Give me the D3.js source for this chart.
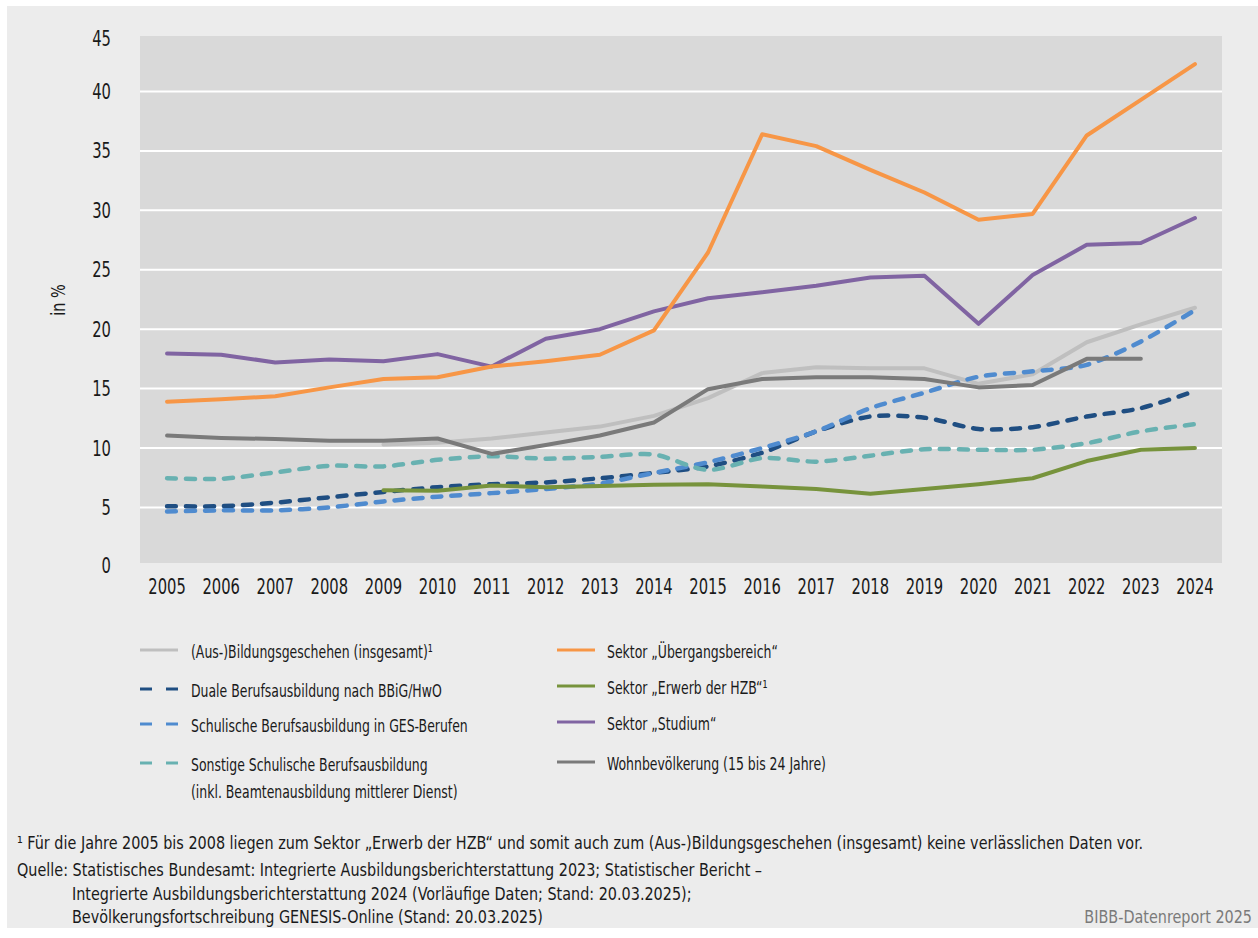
<!DOCTYPE html>
<html>
<head>
<meta charset="utf-8">
<script src="https://cdn.jsdelivr.net/npm/d3@7"></script>
<style>
  body { margin: 0; background: #fff; }
  svg text { font-family: "Liberation Sans Narrow", "DejaVu Sans Condensed", "Arial Narrow", sans-serif; fill: #1a1a1a; }
</style>
</head>
<body>
<svg width="1258" height="938"></svg>
<script>
"use strict";

var years = ["2005", "2006", "2007", "2008", "2009", "2010", "2011", "2012", "2013", "2014",
             "2015", "2016", "2017", "2018", "2019", "2020", "2021", "2022", "2023", "2024"];
var yTicks = [0, 5, 10, 15, 20, 25, 30, 35, 40, 45];

var bildung = [null, null, null, null, 10.3, 10.45, 10.8, 11.3, 11.8, 12.7,
               14.2, 16.3, 16.8, 16.7, 16.7, 15.4, 16.2, 18.9, 20.4, 21.8];
var duale = [5.1, 5.1, 5.4, 5.85, 6.3, 6.7, 6.95, 7.1, 7.45, 7.9,
             8.45, 9.6, 11.4, 12.65, 12.55, 11.6, 11.75, 12.65, 13.35, 14.8];
var ges = [4.65, 4.75, 4.75, 5.0, 5.5, 5.9, 6.2, 6.55, 7.0, 7.9,
           8.8, 10.0, 11.4, 13.35, 14.65, 16.0, 16.45, 17.0, 18.95, 21.6];
var sonstige = [7.45, 7.4, 7.95, 8.5, 8.45, 9.0, 9.3, 9.1, 9.25, 9.45,
                8.15, 9.15, 8.85, 9.35, 9.9, 9.85, 9.85, 10.4, 11.4, 12.0];
var uebergang = [13.9, 14.1, 14.35, 15.1, 15.8, 15.95, 16.85, 17.3, 17.85, 19.9,
                 26.45, 36.4, 35.4, 33.4, 31.5, 29.2, 29.7, 36.3, 39.3, 42.3];
var hzb = [null, null, null, null, 6.45, 6.4, 6.85, 6.7, 6.8, 6.9,
           6.95, 6.75, 6.55, 6.15, 6.55, 6.95, 7.45, 8.9, 9.85, 10.0];
var studium = [17.95, 17.85, 17.2, 17.45, 17.3, 17.9, 16.85, 19.2, 20.0, 21.5,
               22.6, 23.1, 23.65, 24.35, 24.5, 20.45, 24.55, 27.1, 27.25, 29.35];
var wohn = [11.05, 10.85, 10.75, 10.6, 10.6, 10.8, 9.5, 10.25, 11.05, 12.15,
            14.95, 15.8, 15.95, 15.95, 15.8, 15.1, 15.3, 17.5, 17.5, null];

var series = [
    { name: "(Aus-)Bildungsgeschehen (insgesamt)¹", values: bildung, color: "#bfbfbf", dashed: false, col: 0, row: 0 },
    { name: "Duale Berufsausbildung nach BBiG/HwO", values: duale, color: "#1f4e82", dashed: true, col: 0, row: 1 },
    { name: "Schulische Berufsausbildung in GES-Berufen", values: ges, color: "#4f8bcf", dashed: true, col: 0, row: 2 },
    { name: "Sonstige Schulische Berufsausbildung", name2: "(inkl. Beamtenausbildung mittlerer Dienst)", values: sonstige, color: "#68b1b1", dashed: true, col: 0, row: 3 },
    { name: "Sektor „Studium“", values: studium, color: "#8064a2", dashed: false, col: 1, row: 2 },
    { name: "Sektor „Erwerb der HZB“¹", values: hzb, color: "#77933c", dashed: false, col: 1, row: 1 },
    { name: "Sektor „Übergangsbereich“", values: uebergang, color: "#f79646", dashed: false, col: 1, row: 0 },
    { name: "Wohnbevölkerung (15 bis 24 Jahre)", values: wohn, color: "#7a7a7a", dashed: false, col: 1, row: 3 }
];

var svg = d3.select("svg");

// the source font is narrow and tall, so squeeze text horizontally
function place(sel, fx, fy, sx, rot) {
    sel.attr("transform", function (d, i) {
        return "translate(" + fx(d, i) + "," + fy(d, i) + ")" + (rot ? " rotate(" + rot + ")" : "") + " scale(" + sx + ",1)";
    });
}

svg.append("rect").attr("x", 7).attr("y", 6).attr("width", 1251).attr("height", 922).attr("fill", "#ececec");

var plotLeft = 140, plotRight = 1222, plotTop = 36, plotBottom = 563;

var x = d3.scaleBand().domain(years).range([plotLeft, plotRight]);
var y = d3.scaleLinear().domain([0, 45]).range([566.8, 32.1]);

svg.append("rect")
    .attr("x", plotLeft).attr("y", plotTop)
    .attr("width", plotRight - plotLeft).attr("height", plotBottom - plotTop)
    .attr("fill", "#d9d9d9");

svg.append("g")
    .selectAll("line")
    .data(yTicks.filter(function (d) { return d > 0 && d < 45; }))
    .enter().append("line")
    .attr("x1", plotLeft).attr("x2", plotRight)
    .attr("y1", function (d) { return y(d); })
    .attr("y2", function (d) { return y(d); })
    .attr("stroke", "#fff").attr("stroke-width", 2);

// y axis labels
svg.append("g")
    .selectAll("text")
    .data(yTicks)
    .enter().append("text")
    .call(place, function () { return 111; },
          function (d) { return d === 0 ? 565 : d === 45 ? 38 : y(d); }, 0.78)
    .attr("dy", "0.36em")
    .attr("text-anchor", "end")
    .style("font-size", "21px")
    .text(function (d) { return d; });

// x axis labels
svg.append("g")
    .selectAll("text")
    .data(years)
    .enter().append("text")
    .call(place, function (d) { return x(d) + x.bandwidth() / 2; }, function () { return 586; }, 0.78)
    .attr("dy", "0.36em")
    .attr("text-anchor", "middle")
    .style("font-size", "21px")
    .text(function (d) { return d; });

svg.append("text")
    .call(place, function () { return 58; }, function () { return 300; }, 0.8, -90)
    .attr("text-anchor", "middle")
    .attr("dy", "0.35em")
    .style("font-size", "20px")
    .text("in %");

// lines
var lineStraight = d3.line()
    .defined(function (d) { return d != null; })
    .x(function (d, i) { return x(years[i]) + x.bandwidth() / 2; })
    .y(function (d) { return y(d); });

var lineSmooth = d3.line()
    .defined(function (d) { return d != null; })
    .curve(d3.curveCardinal.tension(0.2))
    .x(function (d, i) { return x(years[i]) + x.bandwidth() / 2; })
    .y(function (d) { return y(d); });

svg.append("g")
    .selectAll("path")
    .data(series)
    .enter().append("path")
    .attr("d", function (d) { return d.dashed ? lineSmooth(d.values) : lineStraight(d.values); })
    .attr("fill", "none")
    .attr("stroke", function (d) { return d.color; })
    .attr("stroke-width", function (d) { return d.dashed ? 4.5 : 4; })
    .attr("stroke-linejoin", "round")
    .attr("stroke-linecap", "round")
    .attr("stroke-dasharray", function (d) { return d.dashed ? "9,10" : null; });

// legend
var legendX = [140, 557], legendTextX = [191, 607];
var legendY = [[652, 691, 726, 765], [652, 688, 724, 764]];

var leg = svg.append("g")
    .selectAll("g")
    .data(series)
    .enter().append("g");

leg.append("line")
    .attr("x1", function (d) { return legendX[d.col]; })
    .attr("x2", function (d) { return legendX[d.col] + 38; })
    .attr("y1", function (d) { return legendY[d.col][d.row] - 2; })
    .attr("y2", function (d) { return legendY[d.col][d.row] - 2; })
    .attr("stroke", function (d) { return d.color; })
    .attr("stroke-width", 3)
    .attr("stroke-dasharray", function (d) { return d.dashed ? "12,14" : null; });

leg.append("text")
    .call(place, function (d) { return legendTextX[d.col]; }, function (d) { return legendY[d.col][d.row]; }, 0.77)
    .attr("dy", "0.36em")
    .style("font-size", "18px")
    .text(function (d) { return d.name; });

leg.filter(function (d) { return d.name2; })
    .append("text")
    .call(place, function (d) { return legendTextX[d.col]; }, function (d) { return legendY[d.col][d.row] + 27; }, 0.77)
    .attr("dy", "0.36em")
    .style("font-size", "18px")
    .text(function (d) { return d.name2; });

// footer
var notes = [
    { x: 17, y: 843, t: "¹ Für die Jahre 2005 bis 2008 liegen zum Sektor „Erwerb der HZB“ und somit auch zum (Aus-)Bildungsgeschehen (insgesamt) keine verlässlichen Daten vor." },
    { x: 17, y: 870, t: "Quelle: Statistisches Bundesamt: Integrierte Ausbildungsberichterstattung 2023; Statistischer Bericht –" },
    { x: 72, y: 894, t: "Integrierte Ausbildungsberichterstattung 2024 (Vorläufige Daten; Stand: 20.03.2025);" },
    { x: 72, y: 917, t: "Bevölkerungsfortschreibung GENESIS-Online (Stand: 20.03.2025)" }
];
svg.append("g")
    .selectAll("text")
    .data(notes)
    .enter().append("text")
    .call(place, function (d) { return d.x; }, function (d) { return d.y; }, 0.92)
    .attr("dy", "0.36em")
    .style("font-size", "17.4px")
    .text(function (d) { return d.t; });

svg.append("text")
    .call(place, function () { return 1252; }, function () { return 917; }, 0.92)
    .attr("dy", "0.36em")
    .attr("text-anchor", "end")
    .style("font-size", "17.4px")
    .style("fill", "#7a7a7a")
    .text("BIBB-Datenreport 2025");
</script>
</body>
</html>
